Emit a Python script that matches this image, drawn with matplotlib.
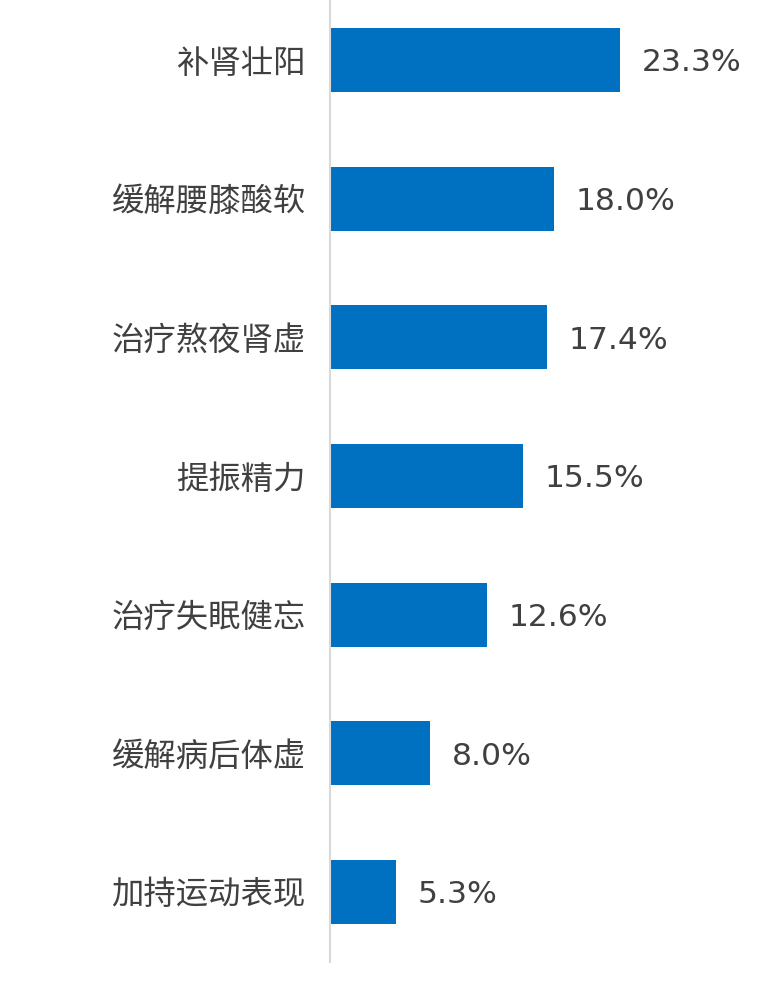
import matplotlib
matplotlib.use('Agg')
import matplotlib.pyplot as plt

plt.rcParams['font.family'] = ['Noto Sans CJK SC', 'DejaVu Sans']

categories = ['补肾壮阳', '缓解腰膝酸软', '治疗熬夜肾虚', '提振精力', '治疗失眠健忘', '缓解病后体虚', '加持运动表现']
values = [23.3, 18.0, 17.4, 15.5, 12.6, 8.0, 5.3]

BAR_COLOR = '#0070C0'
TEXT_COLOR = '#404040'

fig = plt.figure(figsize=(7.71, 10.05), dpi=100)
ax = fig.add_axes([330 / 771, 1 - 962 / 1005, 1 - 330 / 771, 962 / 1005])

y = range(len(categories))
bars = ax.barh(y, values, height=0.46, color=BAR_COLOR)

ax.set_xlim(0, 35.4)
ax.set_ylim(6.505, -0.433)

ax.set_yticks(list(y))
ax.set_yticklabels(categories, fontsize=23.3, color=TEXT_COLOR)
ax.tick_params(axis='y', length=0, pad=17.5)
ax.set_xticks([])

for s in ['top', 'right', 'bottom']:
    ax.spines[s].set_visible(False)
ax.spines['left'].set_color('#D9D9D9')
ax.spines['left'].set_linewidth(1.5)

# подписи значений
for bar, v in zip(bars, values):
    ax.text(bar.get_width() + 1.75, bar.get_y() + bar.get_height() / 2 + 0.02, f'{v:.1f}%',
            ha='left', va='center', fontsize=22.6, color=TEXT_COLOR, family='DejaVu Sans')

fig.savefig('out.png', dpi=100)
plt.close(fig)
